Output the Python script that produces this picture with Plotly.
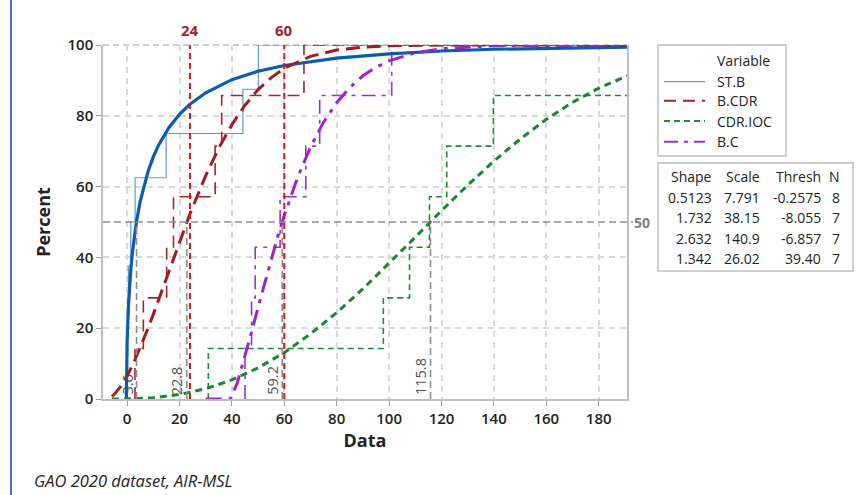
import plotly.graph_objects as go

# ---------------- data ----------------
SERIES = ["ST.B", "B.CDR", "CDR.IOC", "B.C"]

# empirical sample values (step positions)
stb_vals = [0.0, 0.2, 0.5, 1.4, 3.05, 14.9, 44.2, 50.1]
bcdr_vals = [3.0, 6.2, 15.1, 17.7, 33.6, 36.1, 67.5]
cdrioc_vals = [31.0, 97.8, 107.8, 115.4, 122.0, 139.8, 212.0]
bc_vals = [45.0, 47.5, 48.9, 58.4, 68.2, 73.5, 101.0]

# fitted curves (x, percent)
stb_fit_x = [-0.26, -0.25, -0.2, -0.1, 0, 0.5, 1, 1.5, 2, 3, 3.6, 5, 8, 10, 12, 16, 20, 24, 30, 40, 50, 60, 80, 100, 120, 140, 160, 191]
stb_fit_y = [0, 2.8, 7.8, 12.3, 16.0, 26.1, 32.5, 37.3, 41.2, 47.3, 50.2, 55.8, 64.3, 68.4, 71.7, 76.7, 80.4, 83.3, 86.5, 90.2, 92.6, 94.2, 96.3, 97.5, 98.3, 98.8, 99.1, 99.4]

bcdr_fit_x = [-5.8, -5, -2.5, 0, 2.5, 5, 7.5, 10, 15, 20, 24, 30, 35, 40, 45, 50, 55, 60, 70, 80, 90, 100, 120, 191]
bcdr_fit_y = [0.7, 1.25, 3.5, 6.5, 10.2, 14.5, 19.1, 23.9, 34.2, 44.4, 52.3, 63.1, 70.9, 77.5, 83.0, 87.4, 90.8, 93.4, 96.8, 98.6, 99.4, 99.8, 100.0, 100.0]

cdrioc_fit_x = [-5.8, 0, 10, 20, 30, 40, 50, 60, 70, 80, 90, 100, 110, 120, 130, 140, 150, 160, 170, 180, 191]
cdrioc_fit_y = [0, 0.04, 0.37, 1.27, 2.9, 5.4, 8.8, 13.1, 18.4, 24.4, 31.1, 38.3, 45.7, 53.2, 60.4, 67.2, 73.4, 79.0, 83.8, 87.8, 91.3]

bc_fit_x = [30, 39.4, 42, 45, 47.5, 50, 52.5, 55, 57.5, 60, 65, 70, 75, 80, 85, 90, 95, 100, 110, 120, 140, 191]
bc_fit_y = [0, 0, 4.4, 12.0, 18.9, 25.9, 32.8, 39.5, 45.9, 51.9, 62.4, 71.2, 78.2, 83.7, 88.0, 91.3, 93.7, 95.5, 97.8, 98.95, 99.8, 100]

# reference lines
red_ref_x = [24, 60]
median_pct = 50
median_x = [3.6, 22.8, 59.2, 115.8]
median_labels = ["3.6", "22.8", "59.2", "115.8"]

# table
tbl_shape = ["0.5123", "1.732", "2.632", "1.342"]
tbl_scale = ["7.791", "38.15", "140.9", "26.02"]
tbl_thresh = ["-0.2575", "-8.055", "-6.857", "39.40"]
tbl_n = ["8", "7", "7", "7"]

x_ticks = [0, 20, 40, 60, 80, 100, 120, 140, 160, 180]
y_ticks = [0, 20, 40, 60, 80, 100]

# ---------------- styling ----------------
W, H = 865, 495
L, R, T, B = 103, 627, 45, 399
X_RANGE = [-9.2, 190.8]
FONT = "Open Sans"

def pxx(p):
    return (p - L) / (R - L)

def pxy(p):
    return (B - p) / (B - T)

thin = [
    dict(color="#5B9BD5", width=1.2, dash="solid"),
    dict(color="#A52424", width=1.6, dash="12px,7px"),
    dict(color="#1E8C32", width=1.6, dash="6px,4px"),
    dict(color="#9B2FCF", width=1.6, dash="14px,6px,4px,6px"),
]
thick = [
    dict(color="#0B5CAD", width=3.2, dash="solid"),
    dict(color="#A01E1E", width=3, dash="14px,7px"),
    dict(color="#17882C", width=3, dash="7px,5px"),
    dict(color="#9A25C9", width=3, dash="16px,7px,4px,7px"),
]

emp = [stb_vals, bcdr_vals, cdrioc_vals, bc_vals]
fits = [(stb_fit_x, stb_fit_y), (bcdr_fit_x, bcdr_fit_y), (cdrioc_fit_x, cdrioc_fit_y), (bc_fit_x, bc_fit_y)]

fig = go.Figure()
for i, name in enumerate(SERIES):
    vals = emp[i]
    n = len(vals)
    ex = [vals[0]] + vals + [X_RANGE[1] + 5]
    ey = [0] + [100.0 * (k + 1) / n for k in range(n)] + [100]
    fig.add_trace(go.Scatter(x=ex, y=ey, mode="lines", line_shape="hv", line=thin[i],
                             name=name, showlegend=False, hoverinfo="skip"))
for i, name in enumerate(SERIES):
    fx, fy = fits[i]
    fig.add_trace(go.Scatter(x=fx, y=fy, mode="lines", line=thick[i],
                             name=name + " fit", showlegend=False, hoverinfo="skip"))

shapes = []
annotations = []

# top dashed border line (gridline at 100)
shapes.append(dict(type="line", xref="paper", yref="paper", x0=0, x1=1, y0=1, y1=1,
                   line=dict(color="#BDBDBD", width=1.5, dash="6px,4px"), layer="below"))

# grey median lines
shapes.append(dict(type="line", xref="paper", yref="y", x0=0, x1=1 + 6 / (R - L), y0=median_pct, y1=median_pct,
                   line=dict(color="#8E8E8E", width=1.6, dash="7px,4px")))
for xv, lab in zip(median_x, median_labels):
    shapes.append(dict(type="line", xref="x", yref="y", x0=xv, x1=xv, y0=0, y1=median_pct,
                       line=dict(color="#8E8E8E", width=1.6, dash="7px,4px")))
    annotations.append(dict(x=xv, y=0, xref="x", yref="y", text=lab, showarrow=False, textangle=-90,
                            xanchor="center", yanchor="bottom", xshift=-10, yshift=2,
                            font=dict(family=FONT, size=14.5, color="#505050")))
annotations.append(dict(x=1, y=median_pct, xref="paper", yref="y", text="<b>50</b>", showarrow=False,
                        xanchor="left", xshift=5, font=dict(family=FONT, size=14, color="#7F7F7F")))

# red reference lines
for xv in red_ref_x:
    shapes.append(dict(type="line", xref="x", yref="paper", x0=xv, x1=xv, y0=0, y1=1,
                       line=dict(color="#E0141C", width=2, dash="6px,4px")))
    annotations.append(dict(x=xv, y=1, xref="x", yref="paper", text="<b>%d</b>" % xv, showarrow=False,
                            xanchor="center", yanchor="bottom", yshift=3,
                            font=dict(family=FONT, size=15, color="#A52424")))

# legend (manual)
shapes.append(dict(type="rect", xref="paper", yref="paper", x0=pxx(658), x1=pxx(786), y0=pxy(156), y1=pxy(45),
                   line=dict(color="#BFBFBF", width=1.5), fillcolor="white"))
annotations.append(dict(x=pxx(715), y=pxy(60), xref="paper", yref="paper", text="Variable", showarrow=False,
                        xanchor="left", yanchor="middle", font=dict(family=FONT, size=14, color="#222222")))
leg_y = [81.7, 100.7, 121, 141.7]
for i, name in enumerate(SERIES):
    st = dict(thin[i])
    st["width"] = 2 if i > 0 else 1.3
    shapes.append(dict(type="line", xref="paper", yref="paper", x0=pxx(664), x1=pxx(705),
                       y0=pxy(leg_y[i]), y1=pxy(leg_y[i]), line=st))
    annotations.append(dict(x=pxx(715), y=pxy(leg_y[i]), xref="paper", yref="paper", text=name, showarrow=False,
                            xanchor="left", yanchor="middle", font=dict(family=FONT, size=14, color="#222222")))

# table (manual)
shapes.append(dict(type="rect", xref="paper", yref="paper", x0=pxx(658), x1=pxx(853), y0=pxy(271), y1=pxy(163),
                   line=dict(color="#BFBFBF", width=1.5), fillcolor="white"))
col_right = [714, 762, 823, 842]
row_y = [176.7, 197.3, 217.7, 238.3, 258.7]
cols = [["Shape"] + tbl_shape, ["Scale"] + tbl_scale, ["Thresh"] + tbl_thresh, ["N"] + tbl_n]
for c, colvals in enumerate(cols):
    for r, txt in enumerate(colvals):
        annotations.append(dict(x=pxx(col_right[c]), y=pxy(row_y[r]), xref="paper", yref="paper", text=txt,
                                showarrow=False, xanchor="right", yanchor="middle",
                                font=dict(family=FONT, size=14, color="#222222")))

# footnote
annotations.append(dict(x=pxx(32), y=pxy(480), xref="paper", yref="paper", text="<i>GAO 2020 dataset, AIR-MSL</i>",
                        showarrow=False, xanchor="left", yanchor="middle",
                        font=dict(family=FONT, size=16.5, color="#222222")))

# left blue page border
shapes.append(dict(type="line", xref="paper", yref="paper", x0=pxx(11), x1=pxx(11), y0=pxy(H + 5), y1=pxy(-5),
                   line=dict(color="#4472C4", width=2)))

fig.update_layout(
    width=W, height=H,
    margin=dict(l=L, r=W - R, t=T, b=H - B, pad=0),
    paper_bgcolor="white", plot_bgcolor="white",
    showlegend=False,
    shapes=shapes, annotations=annotations,
    font=dict(family=FONT, color="#222222"),
    xaxis=dict(range=X_RANGE, tickvals=x_ticks, ticktext=[str(v) for v in x_ticks],
               showgrid=True, gridcolor="#D9D9D9", griddash="6px,5px", gridwidth=1.5,
               showline=True, linecolor="#BFBFBF", linewidth=1.5, mirror=False,
               ticks="outside", ticklen=5, tickcolor="#9E9E9E",
               tickfont=dict(family=FONT, size=15, color="#222222", weight=600),
               zeroline=False,
               title=dict(text="<b>Data</b>", font=dict(family=FONT, size=18, color="#222222"), standoff=8)),
    yaxis=dict(range=[0, 100], tickvals=y_ticks, ticktext=[str(v) for v in y_ticks],
               showgrid=True, gridcolor="#D9D9D9", griddash="6px,5px", gridwidth=1.5,
               showline=True, linecolor="#BFBFBF", linewidth=1.5, mirror=True,
               ticks="outside", ticklen=5, tickcolor="#9E9E9E",
               tickfont=dict(family=FONT, size=15, color="#222222", weight=600),
               zeroline=False,
               title=dict(text="<b>Percent</b>", font=dict(family=FONT, size=18, color="#222222"), standoff=12)),
)

fig.write_html("out.html")
